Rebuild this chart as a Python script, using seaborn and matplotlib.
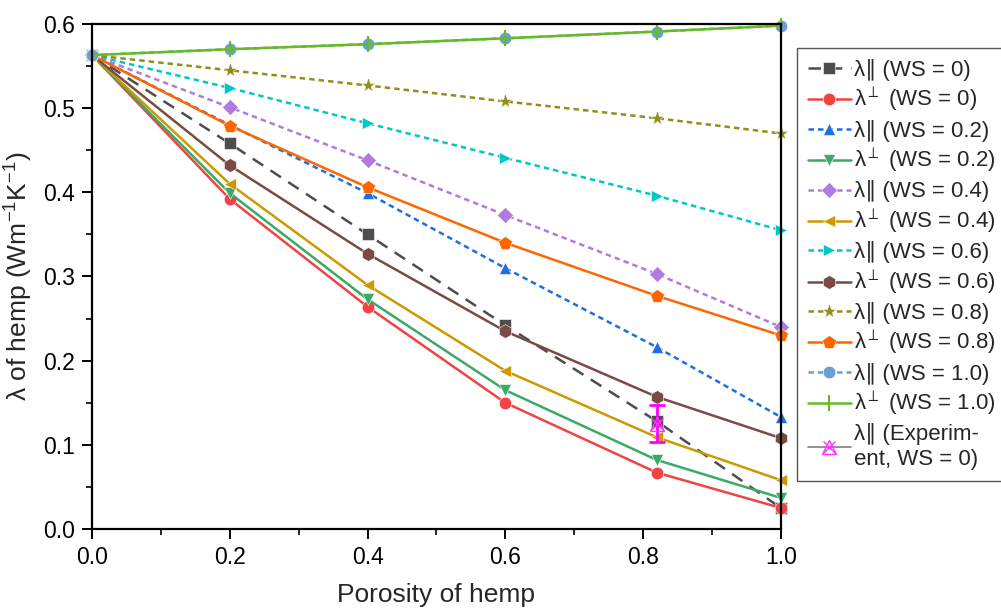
import numpy as np
import pandas as pd
import matplotlib
matplotlib.use("Agg")
import matplotlib.pyplot as plt
import seaborn as sns
from matplotlib.lines import Line2D
from matplotlib.legend_handler import HandlerTuple
from matplotlib.ticker import MultipleLocator

sns.set_style("ticks")
plt.rcParams['font.family'] = ['Liberation Sans', 'DejaVu Sans']
plt.rcParams['mathtext.fontset'] = 'custom'
plt.rcParams['mathtext.rm'] = 'Liberation Sans'
plt.rcParams['mathtext.it'] = 'Liberation Sans'

porosity = [0.0, 0.2, 0.4, 0.6, 0.82, 1.0]

par_ws0 = [0.563, 0.458, 0.350, 0.242, 0.128, 0.025]
perp_ws0 = [0.563, 0.392, 0.264, 0.150, 0.067, 0.025]
par_ws02 = [0.563, 0.480, 0.399, 0.310, 0.216, 0.133]
perp_ws02 = [0.563, 0.399, 0.273, 0.165, 0.082, 0.037]
par_ws04 = [0.563, 0.501, 0.438, 0.373, 0.303, 0.240]
perp_ws04 = [0.563, 0.410, 0.290, 0.188, 0.109, 0.058]
par_ws06 = [0.563, 0.524, 0.482, 0.441, 0.396, 0.355]
perp_ws06 = [0.563, 0.432, 0.327, 0.235, 0.157, 0.108]
par_ws08 = [0.563, 0.545, 0.527, 0.508, 0.488, 0.470]
perp_ws08 = [0.563, 0.479, 0.406, 0.340, 0.277, 0.230]
par_ws10 = [0.563, 0.570, 0.576, 0.583, 0.591, 0.598]
perp_ws10 = [0.563, 0.570, 0.576, 0.583, 0.591, 0.598]

exp_x = [0.82]
exp_y = [0.125]
exp_err = [0.022]

PAR = "λ\u2225"
PERP = "λ$^{\\perp}$"
labels = [
    PAR + " (WS = 0)", PERP + " (WS = 0)",
    PAR + " (WS = 0.2)", PERP + " (WS = 0.2)",
    PAR + " (WS = 0.4)", PERP + " (WS = 0.4)",
    PAR + " (WS = 0.6)", PERP + " (WS = 0.6)",
    PAR + " (WS = 0.8)", PERP + " (WS = 0.8)",
    PAR + " (WS = 1.0)", PERP + " (WS = 1.0)",
]
exp_label = PAR + " (Experim-\nent, WS = 0)"

series = [par_ws0, perp_ws0, par_ws02, perp_ws02, par_ws04, perp_ws04,
          par_ws06, perp_ws06, par_ws08, perp_ws08, par_ws10, perp_ws10]

long_dash = (0, (5, 3.5))
short_dash = (0, (2.2, 1.6))
styles = [
    dict(color='#4d4d4d', marker='s', ls=long_dash, ms=8),
    dict(color='#f04444', marker='o', ls='-', ms=9),
    dict(color='#1f6fe0', marker='^', ls=short_dash, ms=9),
    dict(color='#3aaa66', marker='v', ls='-', ms=9),
    dict(color='#b07ae0', marker='D', ls=short_dash, ms=8),
    dict(color='#cc9900', marker='<', ls='-', ms=9),
    dict(color='#00c8c8', marker='>', ls=short_dash, ms=9),
    dict(color='#7a4a46', marker='h', ls='-', ms=10),
    dict(color='#8f8f1a', marker='*', ls=short_dash, ms=11),
    dict(color='#ff6600', marker='p', ls='-', ms=10),
    dict(color='#6a9fd6', marker='o', ls=short_dash, ms=9),
    dict(color='#66bb22', marker='|', ls='-', ms=12),
]

fig = plt.figure(figsize=(10.01, 6.10), dpi=100)
ax = fig.add_axes([0.0919, 0.1328, 0.6881, 0.8279])

handles = []
for vals, lab, st in zip(series, labels, styles):
    df = pd.DataFrame({"x": porosity, "y": vals})
    mec = st['color'] if st['marker'] == '|' else 'white'
    mew = 1.5 if st['marker'] == '|' else 0.4
    sns.lineplot(data=df, x="x", y="y", ax=ax, color=st['color'], marker=st['marker'],
                 linestyle=st['ls'], lw=1.8, markersize=st['ms'],
                 markeredgecolor=mec, markeredgewidth=mew,
                 label=lab, legend=False, clip_on=False)
    handles.append(Line2D([], [], color=st['color'], marker=st['marker'], ls=st['ls'], lw=1.8,
                          markersize=st['ms'], markeredgecolor=mec, markeredgewidth=mew))

ax.errorbar(exp_x, exp_y, yerr=exp_err, fmt='none', ecolor='#ff00ff', elinewidth=2,
            capsize=6, capthick=2, zorder=5)
ax.plot(exp_x, exp_y, ls='none', marker='^', ms=10, mfc='none', mec='#ff33ff', mew=1, zorder=6)
ax.plot(exp_x, exp_y, ls='none', marker='x', ms=9, mec='#ff33ff', mew=1, zorder=6)
h_exp = (Line2D([], [], color='#808080', lw=1.2, marker='^', ms=10, mfc='none', mec='#ff33ff', mew=1),
         Line2D([], [], ls='none', marker='x', ms=9, mec='#ff33ff', mew=1))

ax.set_xlim(0, 1.0)
ax.set_ylim(0, 0.6)
ax.xaxis.set_major_locator(MultipleLocator(0.2))
ax.xaxis.set_minor_locator(MultipleLocator(0.1))
ax.yaxis.set_major_locator(MultipleLocator(0.1))
ax.yaxis.set_minor_locator(MultipleLocator(0.05))
ax.tick_params(which='major', direction='out', length=7, width=1.4, labelsize=16.5,
               colors='black', pad=5)
ax.tick_params(which='minor', direction='out', length=4, width=1.4)
for s in ax.spines.values():
    s.set_linewidth(1.6)
    s.set_color('black')
ax.set_xlabel("Porosity of hemp", fontsize=19, labelpad=10)
ax.set_ylabel("λ of hemp (Wm$^{-1}$K$^{-1}$)", fontsize=19, labelpad=6)

leg = ax.legend(handles + [h_exp], labels + [exp_label],
                handler_map={tuple: HandlerTuple(ndivide=1)},
                loc='upper left', bbox_to_anchor=(1.023, 0.953), fontsize=16,
                frameon=True, fancybox=False, edgecolor='#555555', framealpha=1,
                handlelength=1.95, handletextpad=0.15, borderaxespad=0, labelspacing=0.24,
                borderpad=0.5)
leg.get_frame().set_linewidth(1.0)

fig.savefig("out.png", dpi=100)
